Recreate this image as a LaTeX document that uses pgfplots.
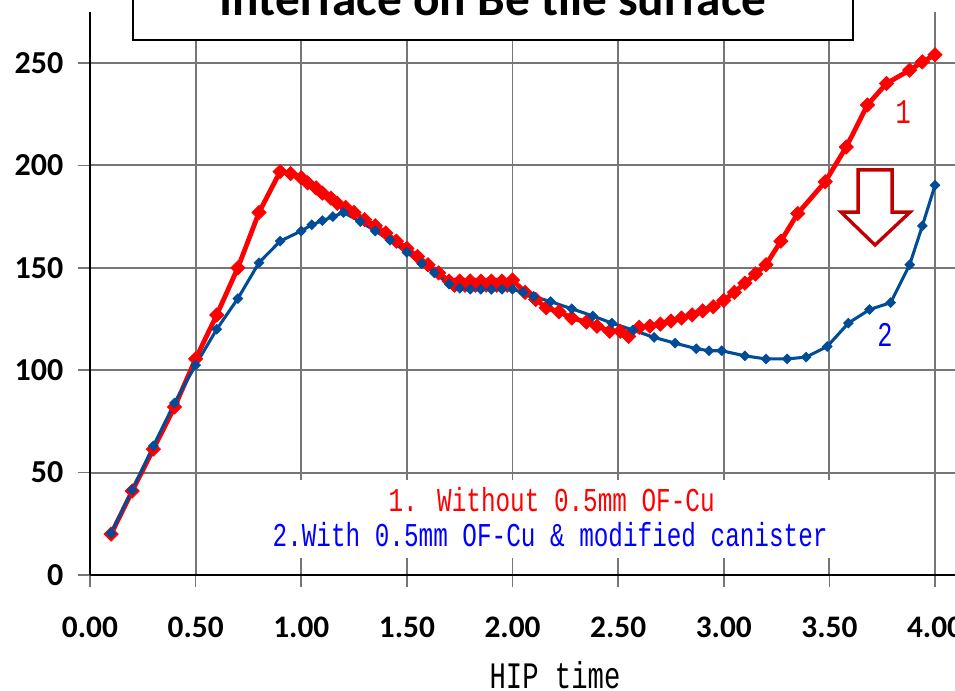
\documentclass[border=0pt]{standalone}
\usepackage{fontspec}
\setmainfont{Carlito}
\newfontfamily\simfont[FakeStretch=0.73]{Liberation Mono}
\usepackage{pgfplots}
\pgfplotsset{compat=1.18}
\definecolor{myred}{RGB}{255,0,0}
\definecolor{myblue}{RGB}{0,76,153}
\definecolor{arrowred}{RGB}{192,0,0}
\definecolor{gridgray}{RGB}{118,118,118}
\begin{document}
\begin{tikzpicture}
\begin{axis}[
  at={(0,0)}, anchor=south west,
  x=158.44pt, y=1.536pt,
  xmin=0, xmax=4.1, ymin=0, ymax=275,
  clip=false,
  separate axis lines,
  axis x line=bottom, axis y line=left,
  x axis line style={-, black, line width=2.2pt},
  y axis line style={-, black, line width=2.2pt},
  xtick={0,0.5,1,1.5,2,2.5,3,3.5,4},
  xticklabels={0.00,0.50,1.00,1.50,2.00,2.50,3.00,3.50,4.00},
  ytick={0,50,100,150,200,250},
  yticklabels={0,50,100,150,200,250},
  grid=major,
  major grid style={gridgray, line width=1.4pt},
  tick align=outside,
  major tick length=9pt,
  tick style={gridgray, line width=1.2pt},
  xticklabel style={font=\bfseries\fontsize{23.5}{23.5}\selectfont, anchor=base, yshift=-38pt},
  yticklabel style={font=\bfseries\fontsize{24}{24}\selectfont, xshift=-7.5pt},
]
% series 1: without OF-Cu
\addplot[myred, line width=3.6pt, mark=square*, mark size=3.8pt, mark options={solid, rotate=45, fill=myred, line width=0.5pt}] coordinates {
(0.1,20) (0.2,41) (0.3,61.5) (0.4,82) (0.5,105.5) (0.6,127) (0.7,150) (0.8,177)
(0.9,197) (0.95,196) (1.0,194) (1.03,191.5) (1.07,189) (1.1,186.5) (1.14,184)
(1.17,181.5) (1.21,179.5) (1.25,177) (1.3,173.5) (1.35,170.5) (1.4,167) (1.45,163)
(1.5,159.5) (1.55,155.5) (1.6,151.5) (1.65,147.5) (1.7,143.5) (1.725,141.5)
(1.75,143.5) (1.775,141.5) (1.8,143.5) (1.825,141.5) (1.85,143.5) (1.875,141.5)
(1.9,143.5) (1.925,141.5) (1.95,143.5) (1.975,141.5) (2.0,144)
(2.06,138) (2.11,134.5) (2.16,130.5) (2.22,128.5) (2.28,125.5) (2.35,123.5)
(2.4,121.5) (2.46,119) (2.51,119) (2.55,116.5)
(2.6,121) (2.65,121.5) (2.7,122.5) (2.75,124) (2.8,125.5) (2.85,127) (2.9,129)
(2.95,131) (3.0,134) (3.05,138) (3.1,142.5) (3.15,147) (3.2,151.5) (3.27,163)
(3.35,176.5) (3.48,192) (3.58,209) (3.68,229.5) (3.77,240) (3.88,246.5)
(3.94,250.5) (4.0,254)
};
% series 2: with OF-Cu and modified canister
\addplot[myblue, line width=2.3pt, mark=square*, mark size=2.6pt, mark options={solid, rotate=45, fill=myblue, line width=0.5pt}] coordinates {
(0.1,20.5) (0.2,41.5) (0.3,63) (0.4,84) (0.5,102.5) (0.6,120) (0.7,135) (0.8,152.5)
(0.9,163) (1.0,168) (1.05,171) (1.1,173) (1.15,175) (1.2,177) (1.28,172.5)
(1.35,168) (1.42,163.5) (1.5,157.5) (1.57,152) (1.63,147.5) (1.7,142) (1.75,140)
(1.8,139.5) (1.85,139.5) (1.9,139.5) (1.95,139.5) (2.0,139.5) (2.05,138) (2.1,136)
(2.18,133.5) (2.28,130) (2.38,126.5) (2.47,123) (2.57,119.6) (2.67,116) (2.77,113.2)
(2.87,110.5) (2.93,109.5) (2.99,109.5) (3.1,107) (3.2,105.5) (3.3,105.5) (3.39,106.4)
(3.49,111.6) (3.59,123) (3.69,129.6) (3.79,133) (3.88,151.5) (3.94,170.5) (4.0,190.3)
};
% annotation box
\fill[white] (axis cs:0.814,8.3) rectangle (axis cs:3.574,46.4);
\node[anchor=base, text=myred, font=\simfont\fontsize{25}{25}\selectfont, inner sep=0pt] at (axis cs:2.185,30.8) {1. Without 0.5mm OF-Cu};
\node[anchor=base, text=blue, font=\simfont\fontsize{25}{25}\selectfont, inner sep=0pt] at (axis cs:2.178,13.7) {2.With 0.5mm OF-Cu \& modified canister};
% curve labels
\node[text=myred, font=\simfont\fontsize{26}{26}\selectfont, inner sep=0pt] at (axis cs:3.849,226) {1};
\node[text=blue, font=\simfont\fontsize{26}{26}\selectfont, inner sep=0pt] at (axis cs:3.763,117.2) {2};
% arrow
\draw[arrowred, line width=2.5pt, fill=white, line join=miter]
  (axis cs:3.636,197.8) -- (axis cs:3.797,197.8) -- (axis cs:3.797,177.2) -- (axis cs:3.882,177.2)
  -- (axis cs:3.716,161.1) -- (axis cs:3.555,177.2) -- (axis cs:3.636,177.2) -- cycle;
% title box
\draw[black, line width=1.2pt, fill=white] (axis cs:0.2036,261.2) rectangle (axis cs:3.612,320);
\node[anchor=base, font=\bfseries\fontsize{37}{37}\selectfont, inner sep=0pt] at (axis cs:1.908,273.4) {Interface on Be tile surface};
% x label
\node[anchor=base, font=\simfont\fontsize{28}{28}\selectfont, inner sep=0pt] at (axis cs:2.201,-55.2) {HIP time};
\end{axis}
\pgfresetboundingbox
\path (-67.5pt,-87pt) rectangle (648.75pt,431.25pt);
\end{tikzpicture}
\end{document}
